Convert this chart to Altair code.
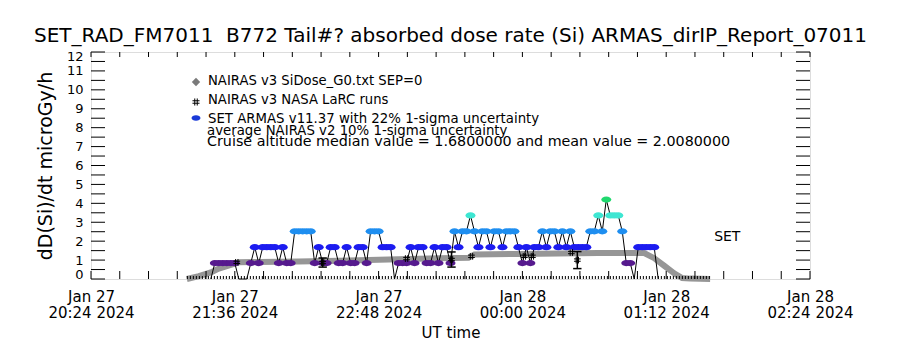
import altair as alt
import pandas as pd

FONT = "DejaVu Sans"

# ---------------- data (time = minutes after 2024-01-27 20:24 UT) ----------------
# SET ARMAS v11.37 absorbed dose rate (quantised in 0.84 microGy/h steps)
set_minutes = list(range(60, 286, 2))
set_dose = [
    0.00, 0.84, 0.84, 0.84, 0.84, 0.84, 0.84, 0.00, 0.00, 0.00,   # 60-78
    0.84, 1.68, 0.84, 1.68, 1.68, 1.68, 1.68, 0.84, 1.68, 0.84,   # 80-98
    0.84, 2.52, 2.52, 2.52, 2.52, 2.52, 0.84, 1.68, 0.84, 0.84,   # 100-118
    1.68, 1.68, 0.84, 0.84, 1.68, 0.84, 0.84, 1.68, 1.68, 0.84,   # 120-138
    2.52, 2.52, 2.52, 1.68, 1.68, 1.68, 0.00, 0.84, 0.84, 0.84,   # 140-158
    1.68, 0.84, 1.68, 1.68, 0.84, 0.84, 1.68, 0.84, 1.68, 1.68,   # 160-178
    0.84, 2.52, 1.68, 2.52, 2.52, 3.36, 2.52, 1.68, 2.52, 2.52,   # 180-198
    1.68, 2.52, 2.52, 1.68, 2.52, 2.52, 2.52, 1.68, 0.84, 1.68,   # 200-218
    0.84, 1.68, 1.68, 2.52, 1.68, 2.52, 2.52, 1.68, 2.52, 1.68,   # 220-238
    2.52, 1.68, 1.68, 1.68, 1.68, 2.52, 2.52, 3.36, 2.52, 4.20,   # 240-258
    3.36, 3.36, 3.36, 2.52, 0.84, 0.84, 0.00, 1.68, 1.68, 1.68,   # 260-278
    1.68, 1.68, 0.00,                                             # 280-284
]
assert len(set_minutes) == len(set_dose)

# NAIRAS v3 SiDose_G0.txt SEP=0
g0_minutes = [48, 54, 60, 64, 70, 74, 84, 104, 124, 154, 174, 189, 192, 214, 234, 254, 277, 282, 287, 292, 296, 300, 310]
g0_dose = [0.0, 0.15, 0.35, 0.55, 0.75, 0.88, 0.90, 0.92, 0.97, 1.05, 1.10, 1.12, 1.30, 1.32, 1.35, 1.37, 1.37, 1.10, 0.70, 0.30, 0.05, 0.02, 0.0]

# NAIRAS v3 NASA LaRC runs
larc_minutes = [73, 116, 158, 180.5, 190.5, 217, 221, 240.5, 243.5]
larc_dose = [0.88, 0.87, 1.08, 1.03, 1.20, 1.20, 1.20, 1.40, 1.00]
larc_err = [0, 0.24, 0, 0.40, 0, 0, 0, 0, 0.45]

# zero-level run of the data record
zero_minutes = [48, 310]
zero_dose = [0, 0]

x_tick_minutes = [0, 72, 144, 216, 288, 360]
x_tick_day = ["Jan 27", "Jan 27", "Jan 27", "Jan 28", "Jan 28", "Jan 28"]
x_tick_time = ["20:24 2024", "21:36 2024", "22:48 2024", "00:00 2024", "01:12 2024", "02:24 2024"]
y_ticks = list(range(0, 13))

title_text = "SET_RAD_FM7011\u00a0 B772 Tail#? absorbed dose rate (Si) ARMAS_dirIP_Report_07011"
legend_lines = [
    "NAIRAS v3 SiDose_G0.txt SEP=0",
    "NAIRAS v3 NASA LaRC runs",
    "SET ARMAS v11.37 with 22% 1-sigma uncertainty",
    "average NAIRAS v2 10% 1-sigma uncertainty",
    "Cruise altitude median value = 1.6800000 and mean value = 2.0080000",
]

level_values = [0.84, 1.68, 2.52, 3.36, 4.20]
level_colors = ["#561a8e", "#1c1cf0", "#1e8ef0", "#3ee6d2", "#20d86e"]

# ---------------- frames ----------------
set_df = pd.DataFrame({"m": set_minutes, "d": set_dose})
set_pts = set_df[set_df["d"] > 0]
g0_df = pd.DataFrame({"m": g0_minutes, "d": g0_dose})
larc_df = pd.DataFrame({"m": larc_minutes, "d": larc_dose, "e": larc_err})
larc_df["lo"] = larc_df["d"] - larc_df["e"]
larc_df["hi"] = larc_df["d"] + larc_df["e"]
larc_eb = larc_df[larc_df["e"] > 0]
zero_df = pd.DataFrame({"m": zero_minutes, "d": zero_dose})

label_expr = " : ".join(
    f"datum.value == {m} ? ['{d}', '{t}']" for m, d, t in zip(x_tick_minutes, x_tick_day, x_tick_time)
) + " : ''"

xscale = alt.Scale(domain=[0, 360], nice=False, zero=False)
yscale = alt.Scale(domain=[0, 12], nice=False)

xaxis = alt.Axis(
    values=x_tick_minutes, labelExpr=label_expr, ticks=False, domain=False, grid=False,
    labelFlush=False, labelOverlap=False, labelFont=FONT, labelFontSize=15,
    labelLineHeight=16, labelPadding=10, labelColor="black",
    title="UT time", titleFont=FONT, titleFontSize=15, titleFontWeight="normal",
    titlePadding=5, titleColor="black",
)
yaxis = alt.Axis(
    values=y_ticks, ticks=False, domain=False, grid=False, labelFlush=True, labelFlushOffset=2,
    labelOverlap=False, labelFont=FONT, labelFontSize=13, labelPadding=8, labelColor="black",
    title="dD(Si)/dt microGy/h", titleFont=FONT, titleFontSize=19,
    titleFontWeight="normal", titlePadding=11, titleColor="black",
)

def X(f="m"):
    return alt.X(f"{f}:Q", scale=xscale, axis=xaxis)

def Y(f="d"):
    return alt.Y(f"{f}:Q", scale=yscale, axis=yaxis)

# inward ticks, drawn as short stroked symbols
ytick_df = pd.DataFrame({"d": [i * 0.5 for i in range(25)]})
xtick_df = pd.DataFrame({"m": [i * 14.4 for i in range(26)]})

h_right = "M0,0L2,0"
h_left = "M0,0L-2,0"
v_down = "M0,0L0,2"
v_up = "M0,0L0,-2"

left_ticks = alt.Chart(ytick_df).mark_point(
    shape=h_right, size=196, filled=False, color="black", strokeWidth=1, opacity=1).encode(
    y=Y(), x=alt.value(0))
right_ticks = alt.Chart(ytick_df).mark_point(
    shape=h_left, size=196, filled=False, color="black", strokeWidth=1, opacity=1).encode(
    y=Y(), x=alt.value(719))
top_ticks = alt.Chart(xtick_df).mark_point(
    shape=v_down, size=25, filled=False, color="black", strokeWidth=1, opacity=1).encode(
    x=X(), y=alt.value(0))
bottom_ticks = alt.Chart(xtick_df).mark_point(
    shape=v_up, size=64, filled=False, color="black", strokeWidth=1, opacity=1).encode(
    x=X(), y=alt.value(227))

zero_line = alt.Chart(zero_df).mark_line(
    color="black", strokeWidth=6, strokeDash=[1, 2], clip=True).encode(x=X(), y=Y())

g0_band = alt.Chart(g0_df).mark_line(color="#969696", strokeWidth=6, interpolate="linear").encode(
    x=X(), y=Y())

set_line = alt.Chart(set_df).mark_line(color="black", strokeWidth=1).encode(x=X(), y=Y())

ellipse = "M-1,0A1,0.62,0,1,1,1,0A1,0.62,0,1,1,-1,0Z"
set_marks = alt.Chart(set_pts).mark_point(shape=ellipse, filled=True, size=100, opacity=1).encode(
    x=X(), y=Y(),
    color=alt.Color("d:O", scale=alt.Scale(domain=level_values, range=level_colors), legend=None),
)

hash_shape = "M-1,-0.35L1,-0.35M-1,0.35L1,0.35M-0.35,-1L-0.35,1M0.35,-1L0.35,1"
larc_pts = alt.Chart(larc_df).mark_point(shape=hash_shape, filled=False, size=45,
                                          color="black", strokeWidth=1, opacity=1).encode(x=X(), y=Y())
larc_rule = alt.Chart(larc_eb).mark_rule(color="black", strokeWidth=1.5).encode(
    x=X(), y=Y("lo"), y2="hi:Q")
cap = "M-1,0L1,0"
larc_cap_lo = alt.Chart(larc_eb).mark_point(shape=cap, size=70, color="black", strokeWidth=1.5,
                                             opacity=1).encode(x=X(), y=Y("lo"))
larc_cap_hi = alt.Chart(larc_eb).mark_point(shape=cap, size=70, color="black", strokeWidth=1.5,
                                             opacity=1).encode(x=X(), y=Y("hi"))

set_label = alt.Chart(pd.DataFrame({"m": [312], "d": [2.2], "t": ["SET"]})).mark_text(
    font=FONT, fontSize=14, align="left", baseline="middle", color="black").encode(
    x=X(), y=Y(), text="t:N")

# legend block
leg_text_df = pd.DataFrame({
    "t": legend_lines,
    "px": [117, 117, 117, 116, 116],
    "py": [29, 48, 67, 79, 90],
    "fs": [13.2, 13.2, 13.3, 13.3, 14.3],
})
leg_text = alt.Chart(leg_text_df).mark_text(
    font=FONT, align="left", baseline="middle", color="black").encode(
    x=alt.X("px:Q", scale=None), y=alt.Y("py:Q", scale=None), text="t:N",
    size=alt.Size("fs:Q", scale=None, legend=None))

leg_g0 = alt.Chart(pd.DataFrame({"a": [0]})).mark_point(
    shape="diamond", filled=True, size=70, color="#7a7a7a", opacity=1).encode(
    x=alt.value(105), y=alt.value(30))
leg_larc = alt.Chart(pd.DataFrame({"a": [0]})).mark_point(
    shape=hash_shape, filled=False, size=50, color="black", strokeWidth=1, opacity=1).encode(
    x=alt.value(105), y=alt.value(50))
leg_set = alt.Chart(pd.DataFrame({"a": [0]})).mark_point(
    shape=ellipse, filled=True, size=80, color="#1a3ad8", opacity=1).encode(
    x=alt.value(105), y=alt.value(66))

chart = alt.layer(
    g0_band, zero_line, set_line, set_marks, larc_rule, larc_cap_lo, larc_cap_hi, larc_pts,
    set_label, left_ticks, right_ticks, top_ticks, bottom_ticks,
    leg_text, leg_g0, leg_larc, leg_set,
).properties(
    width=719, height=227,
    autosize=alt.AutoSizeParams(type="none"),
    padding={"left": 91, "top": 52, "right": 90, "bottom": 71},
    title=alt.TitleParams(title_text, font=FONT, fontSize=20, fontWeight="normal",
                          anchor="middle", offset=4, color="black"),
).configure_view(
    stroke="black", strokeWidth=1
).configure(background="white")

chart.save("out.html", embed_options={"renderer": "svg", "actions": False})
